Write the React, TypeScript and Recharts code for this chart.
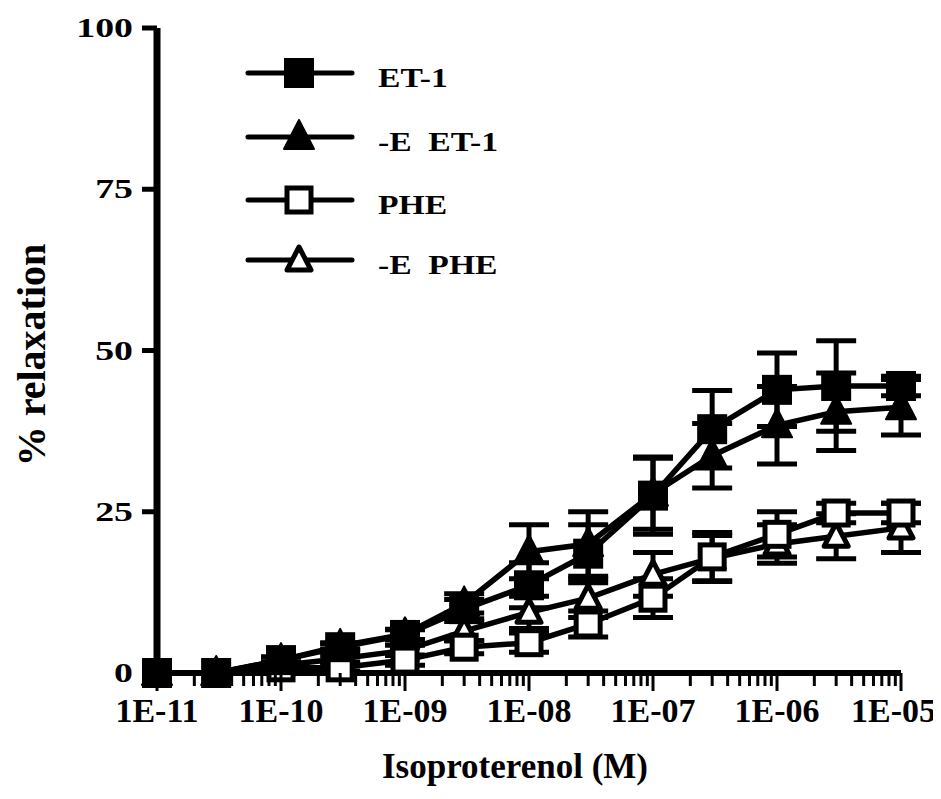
import React from 'react';
import { LineChart, Line, XAxis, YAxis, ErrorBar, Legend } from 'recharts';

// isoproterenol concentrations (M)
const concentrations = [1e-11, 3e-11, 1e-10, 3e-10, 1e-9, 3e-9, 1e-8, 3e-8, 1e-7, 3e-7, 1e-6, 3e-6, 1e-5];

// % relaxation, mean and SEM
const et1 = [0, 0, 2.0, 4.0, 5.9, 9.9, 13.6, 18.5, 27.5, 37.8, 43.9, 44.5, 44.5];
const et1Sem = [0, 0, 0.5, 0.5, 0.8, 1.5, 3.5, 4.5, 6.0, 6.0, 5.7, 7.0, 1.5];
const eEt1 = [0, 0, 2.0, 4.2, 6.0, 10.8, 18.8, 20.0, 27.8, 33.7, 38.4, 40.5, 41.2];
const eEt1Sem = [0, 0, 0.5, 0.5, 0.8, 1.5, 4.2, 5.0, 5.5, 5.0, 6.0, 6.0, 4.3];
const phe = [0, 0, 0.8, 0.8, 2.0, 4.0, 4.7, 7.6, 11.6, 18.0, 21.5, 24.8, 24.8];
const pheSem = [0, 0, 0.5, 0.5, 0.8, 1.0, 1.5, 2.0, 3.0, 3.8, 3.5, 1.5, 1.5];
const ePhe = [0, 0, 1.2, 2.2, 3.5, 6.5, 9.4, 11.6, 15.3, 17.8, 20.0, 21.2, 22.5];
const ePheSem = [0, 0, 0.5, 0.5, 0.8, 1.5, 2.5, 3.0, 3.4, 3.5, 3.0, 3.5, 3.8];

const majorTicks = [1e-11, 1e-10, 1e-9, 1e-8, 1e-7, 1e-6, 1e-5];
const majorLabels = ['1E-11', '1E-10', '1E-09', '1E-08', '1E-07', '1E-06', '1E-05'];
const minorSteps = [2, 3, 4, 5, 6, 7, 8, 9];
const yTicks = [0, 25, 50, 75, 100];

const xTicks = [
  ...majorTicks,
  ...majorTicks.slice(0, -1).flatMap((d) => minorSteps.map((m) => m * d)),
];

const data = concentrations.map((conc, i) => ({
  conc,
  et1: et1[i],
  et1Sem: et1Sem[i],
  eEt1: eEt1[i],
  eEt1Sem: eEt1Sem[i],
  phe: phe[i],
  pheSem: pheSem[i],
  ePhe: ePhe[i],
  ePheSem: ePheSem[i],
}));

type Shape = 'square' | 'triangle';

// drawing order (ET-1 on top)
const series: { key: string; name: string; shape: Shape; filled: boolean }[] = [
  { key: 'ePhe', name: '-E  PHE', shape: 'triangle', filled: false },
  { key: 'phe', name: 'PHE', shape: 'square', filled: false },
  { key: 'eEt1', name: '-E  ET-1', shape: 'triangle', filled: true },
  { key: 'et1', name: 'ET-1', shape: 'square', filled: true },
];

const legendOrder = ['et1', 'eEt1', 'phe', 'ePhe'];
const legendY = [65, 129, 192, 252];

const FONT = '"Liberation Serif", "Times New Roman", serif';

const Marker = ({ cx, cy, shape, filled }: any) => {
  if (cx == null || cy == null || isNaN(cx) || isNaN(cy)) return null;
  if (shape === 'square') {
    return filled ? (
      <rect x={cx - 15} y={cy - 15} width={30} height={30} fill="#000" />
    ) : (
      <rect x={cx - 12} y={cy - 12} width={24} height={24} fill="#fff" stroke="#000" strokeWidth={5} />
    );
  }
  if (filled) {
    const pts = `${cx},${cy - 17} ${cx + 15},${cy + 12} ${cx - 15},${cy + 12}`;
    return <polygon points={pts} fill="#000" stroke="#000" strokeWidth={2} strokeLinejoin="round" />;
  }
  const pts = `${cx},${cy - 13} ${cx + 12},${cy + 10} ${cx - 12},${cy + 10}`;
  return <polygon points={pts} fill="#fff" stroke="#000" strokeWidth={5} strokeLinejoin="round" />;
};

const XTick = ({ x, y, payload }: any) => {
  const v = payload.value;
  const idx = majorTicks.findIndex((t) => Math.abs(t - v) / t < 1e-6);
  const major = idx >= 0;
  const last = idx === majorTicks.length - 1;
  return (
    <g>
      <line x1={x} x2={x} y1={y} y2={y + (major ? 18 : 13)} stroke="#000" strokeWidth={3} />
      {major && (
        <text
          x={last ? x + 35 : x}
          y={y + 49}
          textAnchor={last ? 'end' : 'middle'}
          fontFamily={FONT}
          fontWeight="bold"
          fontSize={34}
          fill="#000"
        >
          {majorLabels[idx]}
        </text>
      )}
    </g>
  );
};

const YTick = ({ x, y, payload }: any) => (
  <text
    transform={`translate(${x},${y + 9}) scale(1.4,1)`}
    textAnchor="end"
    fontFamily={FONT}
    fontWeight="bold"
    fontSize={27}
    fill="#000"
  >
    {payload.value}
  </text>
);

const XTitle = () => (
  <text x={507} y={770} textAnchor="middle" fontFamily={FONT} fontWeight="bold" fontSize={35} fill="#000">
    Isoproterenol (M)
  </text>
);

const YTitle = () => (
  <text
    transform="translate(37,347) rotate(-90)"
    textAnchor="middle"
    fontFamily={FONT}
    fontWeight="bold"
    fontSize={40}
    fill="#000"
  >
    % relaxation
  </text>
);

const LegendContent = () => (
  <svg width={560} height={300} style={{ display: 'block' }}>
    {legendOrder.map((k, i) => {
      const s = series.find((e) => e.key === k)!;
      const y = legendY[i];
      return (
        <g key={k}>
          <line x1={240} x2={344} y1={y} y2={y} stroke="#000" strokeWidth={5} strokeLinecap="round" />
          <Marker cx={291} cy={y} shape={s.shape} filled={s.filled} />
          <text
            transform={`translate(370,${y + 14}) scale(1.2,1)`}
            fontFamily={FONT}
            fontWeight="bold"
            fontSize={28}
            fill="#000"
            style={{ whiteSpace: 'pre' }}
          >
            {s.name}
          </text>
        </g>
      );
    })}
  </svg>
);

export default function App() {
  return (
    <div style={{ width: 933, height: 791, background: '#fff' }}>
      <LineChart width={933} height={791} data={data} margin={{ top: 20, right: 40, left: 59, bottom: 46 }}>
        <XAxis
          dataKey="conc"
          type="number"
          scale="log"
          domain={[1e-11, 1e-5]}
          ticks={xTicks}
          interval={0}
          height={80}
          tickSize={0}
          tickMargin={0}
          tickLine={false}
          axisLine={{ stroke: '#000', strokeWidth: 6 }}
          tick={<XTick />}
          label={<XTitle />}
        />
        <YAxis
          type="number"
          domain={[0, 100]}
          ticks={yTicks}
          width={90}
          tickSize={15}
          tickMargin={9}
          axisLine={{ stroke: '#000', strokeWidth: 7 }}
          tickLine={{ stroke: '#000', strokeWidth: 5 }}
          tick={<YTick />}
          label={<YTitle />}
        />
        <Legend
          layout="vertical"
          align="center"
          verticalAlign="middle"
          content={<LegendContent />}
          wrapperStyle={{ position: 'absolute', top: 0, left: 0, width: 560, height: 300 }}
        />
        {series.map((s) => (
          <Line
            key={s.key}
            dataKey={s.key}
            name={s.name}
            type="linear"
            stroke="#000"
            strokeWidth={5.5}
            isAnimationActive={false}
            activeDot={false}
            dot={(p: any) => <Marker key={`${s.key}-${p.index}`} cx={p.cx} cy={p.cy} shape={s.shape} filled={s.filled} />}
          >
            <ErrorBar dataKey={`${s.key}Sem`} width={20} strokeWidth={5} stroke="#000" direction="y" />
          </Line>
        ))}
      </LineChart>
    </div>
  );
}
